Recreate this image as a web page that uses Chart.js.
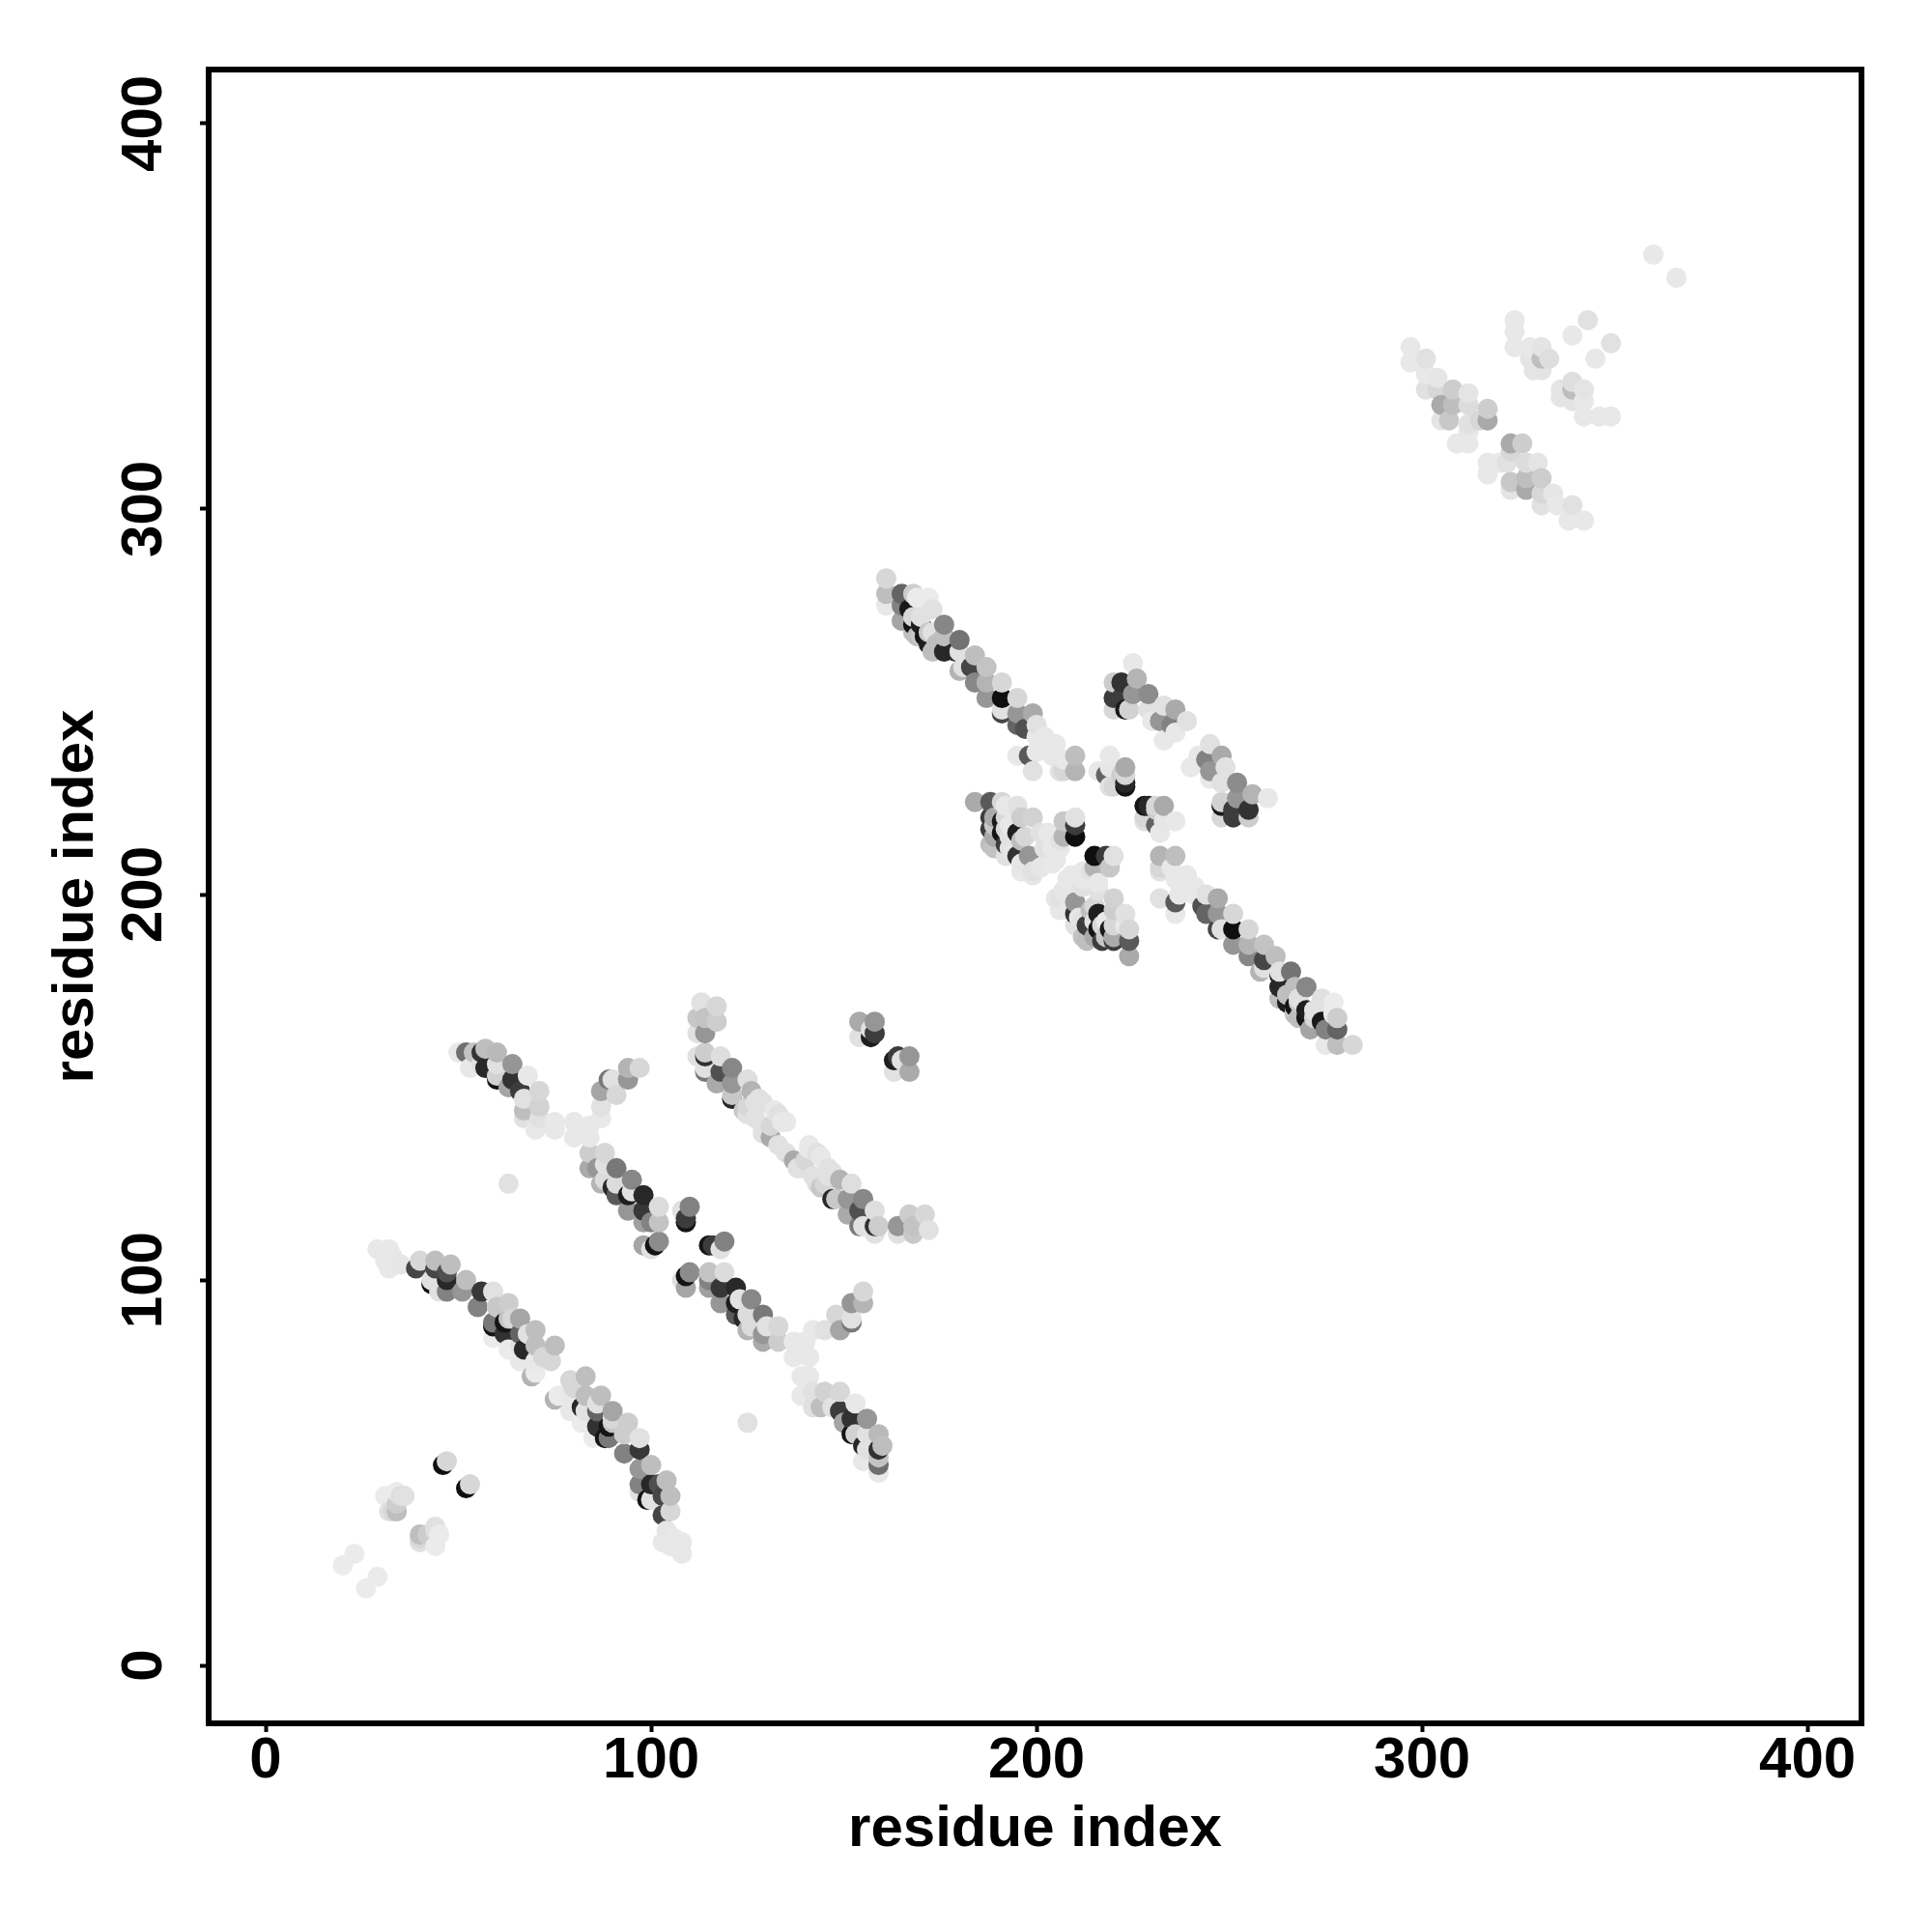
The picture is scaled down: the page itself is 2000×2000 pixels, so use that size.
<!DOCTYPE html>
<html>
<head>
<meta charset="utf-8">
<title>residue contact map</title>
<script src="https://cdn.jsdelivr.net/npm/chart.js@4"></script>
<style>
  html, body { margin: 0; background: #fff; }
  canvas { display: block; }
</style>
</head>
<body>
<canvas id="contactMap" width="2000" height="2000"></canvas>
<script>
const tickValues = [0, 100, 200, 300, 400];
const axisLabel = 'residue index';

// The map is symmetric, so one triangle is listed: residue pair + grey level.
const residueA = [
  83,79,80,75,76,79,79,83,87,82, 83,86,90,86,82,90,89,94,88,89,
  85,93,97,97,93,97,100,97,100,102, 104,97,99,100,103,105,103,105,104,106, 103,108,108,105,
  52,53,40,40,40,42,44,44,44,45, 29,26,
  109,110,109,108,115,116,119,118,115,115, 115,119,118,122,118,122,123,126,122,125, 124,129,125,126,130,129,129,133,133,
  137,140,137,141,142,145,149,148,152,152, 152,155,155,139,141,125,
  139,142,145,149,142,144,147,153,149,150, 152,156,152,153,156,159,155,156,160,159, 159,159,155,159,
  137,138,141,140,144,142,145,147,148,149, 152,151,147,151,155,154,158,154,155,158,
  159,158,164,164,167,171,168,172,168,144, 141,154,154,158,158,157,157,
  161,161,161,165,165,165,168,169,172,173, 167,168,169,171,172,170,173,176,176,173,
  176,180,179,180,180,181,184,183,187,184, 187,191,191,187,191,191,195,195,199,195,
  197,200,200,202,205,195,199,198,200,203, 210,210,207,206,
  219,216,223,219,218,222,223,223,223,220, 219,
  225,226,220,222,220,222,225,229,220,224, 229,233,236,232,230,235,239,233,236,223,
  184,188,188,188,188,191,192,195,189,191, 191,192,192,195,195,196,199,201,197,198,
  199,202,206,201,205,196,189,193,210,210, 210,207,206,207,
  323,326,322,323,323,327,327,330,331,331, 317,317,320,331,334,339,335,338,342,323, 327,
  349,346,342,342,342,339,339,339,336,336, 345,349,366,
  139,143,146,135,143,146,201,204,207,202, 194,196,199,204,204,203,
  168,170,172,170,174,168,189,192,192,193, 196,189,193,68,64,60
];
const residueB = [
  75,74,72,69,70,70,66,70,70,67, 66,66,66,62,63,63,62,63,59,59,
  59,60,59,56,55,51,52,47,47,47, 48,45,43,43,44,44,39,40,35,33, 32,32,29,31,
  46,47,34,32,33,34,36,31,35,34, 23,20,
  101,102,98,100,109,109,110,108,102,100, 98,102,98,98,94,94,95,95,91,91, 90,91,87,88,88,84,86,88,84,
  84,84,80,80,87,87,87,91,90,89, 94,94,97,75,75,63,
  70,71,71,71,67,67,67,68,66,63, 64,64,60,60,60,60,57,56,57,56, 54,52,53,50,
  131,129,135,131,132,127,125,128,121,126, 125,121,121,117,121,118,118,114,114,114,
  114,112,114,112,117,117,114,113,112,124, 134,167,163,167,164,163,165,
  282,278,275,278,275,271,278,277,277,274, 274,270,267,267,265,270,268,270,267,263,
  263,266,263,258,263,259,262,259,259,255, 255,255,251,251,247,248,251,247,247,244,
  243,244,241,239,239,236,232,236,237,237, 236,232,232,232,
  236,232,233,228,231,231,228,229,231,228, 233,
  260,256,255,255,251,251,252,252,248,248, 248,249,248,245,245,244,245,240,242,248,
  224,224,220,217,213,224,223,223,220,219, 216,213,210,216,210,220,220,216,215,210,
  206,212,212,207,209,206,212,212,220,218, 215,215,214,219,
  317,317,312,307,305,312,305,312,308,304, 312,309,312,301,304,301,301,297,297,315, 308,
  324,324,324,328,331,328,331,333,329,331, 339,343,360,
  129,133,129,133,125,127,239,236,235,241, 211,208,205,212,208,216,
  272,272,268,267,265,268,218,217,220,215, 214,215,218,86,90,93
];
const shade = [
  190,215,215,180,235,232,232,190,190,40, 225,100,165,50,235,195,20,205,20,120,
  235,200,225,55,130,150,190,130,40,80, 190,225,20,225,70,190,70,215,230,232, 232,232,232,232,
  15,215,190,225,215,205,225,235,222,235, 235,235,
  20,140,165,225,20,60,130,225,195,130, 160,220,55,40,150,30,225,135,90,220, 40,120,180,220,225,170,150,215,205,
  232,232,232,232,232,225,165,215,225,120, 150,180,215,232,232,225,
  232,225,210,215,225,190,225,232,60,165, 50,150,20,210,225,185,40,225,190,50, 195,110,232,232,
  170,225,232,215,232,225,215,225,200,180, 222,150,40,170,135,80,222,120,225,50,
  205,225,150,225,205,215,195,225,200,200, 232,170,225,150,60,30,225,
  215,190,232,100,130,165,205,235,235,225, 25,20,190,20,30,30,225,135,190,190,
  40,115,40,180,225,225,190,70,195,135, 180,215,15,150,70,225,215,150,170,100,
  80,225,232,232,232,232,225,90,232,232, 190,180,215,225,
  232,232,170,225,100,205,20,40,215,215, 230,
  232,180,205,50,60,60,150,140,215,210, 225,225,170,150,232,130,225,232,232,25,
  170,90,60,60,190,215,232,225,170,25, 20,60,225,30,50,205,210,225,215,150,
  225,225,232,230,232,232,195,225,225,60, 15,180,225,200,
  170,205,225,200,228,220,170,228,205,215, 232,232,232,225,230,225,232,232,232,215, 190,
  232,232,232,232,228,228,190,222,228,228, 232,225,232,
  225,225,225,225,225,225,232,232,232,232, 230,230,230,232,232,232,
  215,225,200,200,190,190,200,215,215,225, 190,170,232,225,215,205
];

// plotted in column order, later points sit on top like in the original plot
const pairs = residueA.map((a, k) => ({ x: a, y: residueB[k], g: shade[k] }))
  .concat(residueA.map((a, k) => ({ x: residueB[k], y: a, g: shade[k] })))
  .sort((p, q) => p.x - q.x || p.y - q.y);

const fontFace = '"Liberation Sans", Arial, sans-serif';

const framePlugin = {
  id: 'frameAndLabels',
  afterDraw(chart) {
    const { ctx, chartArea: area, scales } = chart;
    ctx.save();
    ctx.strokeStyle = '#000';
    ctx.lineWidth = 6;
    ctx.strokeRect(area.left, area.top, area.right - area.left, area.bottom - area.top);

    ctx.fillStyle = '#000';
    ctx.textAlign = 'center';
    ctx.textBaseline = 'middle';
    ctx.font = 'bold 60px ' + fontFace;
    ctx.fillText(axisLabel, (area.left + area.right) / 2, 1894);

    // y tick labels and title read sideways
    tickValues.forEach(v => {
      ctx.save();
      ctx.translate(150, scales.y.getPixelForValue(v));
      ctx.rotate(-Math.PI / 2);
      ctx.fillText(String(v), 0, 0);
      ctx.restore();
    });
    ctx.save();
    ctx.translate(79, (area.top + area.bottom) / 2);
    ctx.rotate(-Math.PI / 2);
    ctx.fillText(axisLabel, 0, 0);
    ctx.restore();
    ctx.restore();
  }
};

new Chart(document.getElementById('contactMap'), {
  type: 'scatter',
  data: {
    datasets: [{
      data: pairs.map(p => ({ x: p.x, y: p.y })),
      pointRadius: 10.5,
      pointBorderWidth: 0,
      pointBackgroundColor: pairs.map(p => `rgb(${p.g},${p.g},${p.g})`)
    }]
  },
  options: {
    responsive: false,
    animation: false,
    layout: { padding: { top: 72, right: 73, left: 0, bottom: 0 } },
    plugins: { legend: { display: false }, tooltip: { enabled: false } },
    scales: {
      x: {
        min: -14.8,
        max: 414,
        afterBuildTicks: s => { s.ticks = tickValues.map(v => ({ value: v })); },
        afterFit: s => { s.height = 216; },
        border: { display: false },
        grid: { drawOnChartArea: false, tickLength: 9, tickColor: '#000', tickWidth: 4 },
        ticks: {
          color: '#000',
          maxRotation: 0,
          padding: -6,
          font: { family: fontFace, size: 60, weight: 'bold' }
        }
      },
      y: {
        min: -15,
        max: 414,
        afterBuildTicks: s => { s.ticks = tickValues.map(v => ({ value: v })); },
        afterFit: s => { s.width = 216; },
        border: { display: false },
        grid: { drawOnChartArea: false, tickLength: 9, tickColor: '#000', tickWidth: 4 },
        ticks: { display: false }
      }
    }
  },
  plugins: [framePlugin]
});
</script>
</body>
</html>
